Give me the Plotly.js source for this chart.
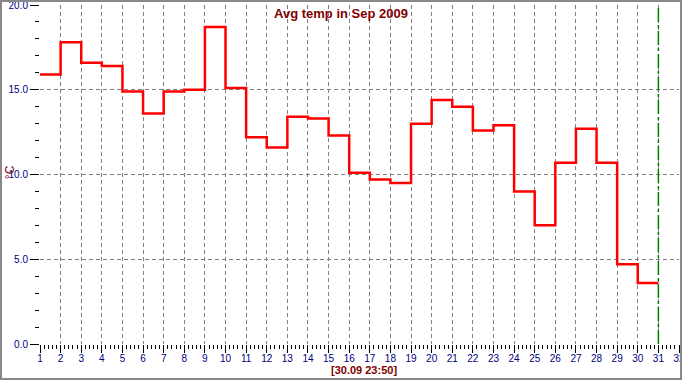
<!DOCTYPE html>
<html>
<head>
<meta charset="utf-8">
<script src="https://cdn.plot.ly/plotly-3.0.1.min.js"></script>
<style>
  html, body { margin: 0; padding: 0; background: #fff; }
  #wrap { position: relative; width: 682px; height: 380px; overflow: hidden; }
  #chart { position: absolute; left: 0; top: 0; width: 682px; height: 380px; }
  #border { position: absolute; left: 0; top: 0; width: 682px; height: 380px; box-sizing: border-box;
            border: 2px solid #888888; pointer-events: none; }
</style>
</head>
<body>
<div id="wrap"><div id="chart"></div><div id="border"></div></div>
<script>
// Day of month (start of each daily step)
const days = [1,2,3,4,5,6,7,8,9,10,11,12,13,14,15,16,17,18,19,20,21,22,23,24,25,26,27,28,29,30];
// Average temperature per day, °C
const avgTemp = [15.9,17.8,16.6,16.4,14.9,13.6,14.9,15.0,18.7,15.1,12.2,11.6,13.4,13.3,12.3,10.1,9.7,9.5,13.0,14.4,14.0,12.6,12.9,9.0,7.0,10.7,12.7,10.7,4.7,3.6];
// Current-time marker (day position)
const nowMarker = 31;
const titleText = "Avg temp in Sep 2009";
const yTitle = "°C";
const timeStamp = "[30.09 23:50]";

// step line: close the last day's step at the following day
const xs = days.concat([days[days.length - 1] + 1]);
const ys = avgTemp.concat([avgTemp[avgTemp.length - 1]]);

const fam = "Arial, 'Liberation Sans', sans-serif";
const tickFont = { family: fam, size: 10, color: "#000080" };
const red = "#800000";

const trace = {
  x: xs, y: ys, type: "scatter", mode: "lines",
  line: { shape: "hv", color: "#ff0000", width: 2.5 },
  hoverinfo: "skip"
};

const layout = {
  width: 682, height: 380,
  margin: { l: 40, r: 3, t: 5, b: 36 },
  paper_bgcolor: "#ffffff", plot_bgcolor: "#ffffff",
  showlegend: false,
  title: { text: "<b>" + titleText + "</b>", x: 0.5, xref: "container", xanchor: "center",
           y: 1 - 13/380, yref: "container", yanchor: "middle",
           font: { family: fam, size: 13, color: red } },
  xaxis: {
    range: [1, 32], tick0: 1, dtick: 1, tickmode: "linear",
    ticks: "outside", ticklen: 8, tickwidth: 1, tickcolor: "#000000",
    ticklabeloverflow: "allow", ticklabelstandoff: -3,
    showline: false, zeroline: false,
    showgrid: true, gridcolor: "#808080", gridwidth: 1, griddash: "4px,3px",
    tickfont: tickFont,
    minor: { dtick: 0.2, tick0: 1, ticks: "outside", ticklen: 4, tickwidth: 1, tickcolor: "#000000", showgrid: false },
    fixedrange: true
  },
  yaxis: {
    range: [0, 20], tick0: 0, dtick: 5, tickmode: "linear", tickformat: ".1f",
    ticks: "outside", ticklen: 9, tickwidth: 1, tickcolor: "#000000",
    ticklabeloverflow: "allow",
    showline: false, zeroline: false,
    showgrid: true, gridcolor: "#808080", gridwidth: 1, griddash: "4px,3px",
    tickfont: tickFont,
    minor: { dtick: 1, tick0: 0, ticks: "outside", ticklen: 4, tickwidth: 1, tickcolor: "#000000", showgrid: false },
    fixedrange: true
  },
  shapes: [
    { type: "line", xref: "x", yref: "paper", x0: nowMarker, x1: nowMarker, y0: 0, y1: 1,
      line: { color: "#008000", width: 1.5, dash: "14px,3px,3px,3px" } }
  ],
  annotations: [
    { text: yTitle, xref: "paper", yref: "paper", x: 0, y: 0.507, xanchor: "center", yanchor: "middle",
      xshift: -30, textangle: -90, showarrow: false,
      font: { family: fam, size: 12, color: red } },
    { text: "<b>" + timeStamp + "</b>", xref: "paper", yref: "paper", x: 0.5, y: 0, xanchor: "center", yanchor: "middle",
      xshift: 4, yshift: -26, showarrow: false,
      font: { family: fam, size: 11, color: red } }
  ]
};

Plotly.newPlot("chart", [trace], layout, { displayModeBar: false, staticPlot: true });
</script>
</body>
</html>
